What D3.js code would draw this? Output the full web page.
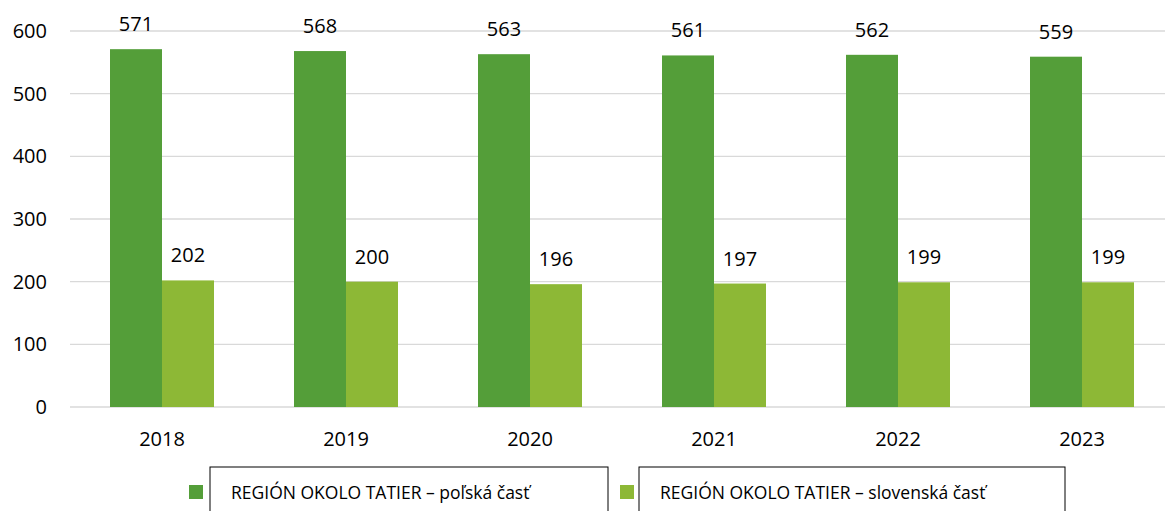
<!DOCTYPE html>
<html>
<head>
<meta charset="utf-8">
<script src="https://cdn.jsdelivr.net/npm/d3@7"></script>
<style>
  body { margin: 0; background: #fff; }
  text { font-family: "Open Sans", "Noto Sans", sans-serif; fill: #000; }
</style>
</head>
<body>
<div id="chart"></div>
<script>
const years = ["2018", "2019", "2020", "2021", "2022", "2023"];
const seriesNames = ["REGIÓN OKOLO TATIER – poľská časť", "REGIÓN OKOLO TATIER – slovenská časť"];
const polishValues = [571, 568, 563, 561, 562, 559];
const slovakValues = [202, 200, 196, 197, 199, 199];
const yTicks = [0, 100, 200, 300, 400, 500, 600];
const colors = ["#549e39", "#8db836"];

const w = 1165;
const h = 511;
const plotLeft = 70, plotRight = 1174, plotTop = 31, plotBottom = 407;

const svg = d3.select("#chart")
    .append("svg")
    .attr("width", w)
    .attr("height", h);

const xScale = d3.scaleBand()
    .domain(years)
    .range([plotLeft, plotRight]);

const inner = d3.scaleBand()
    .domain([0, 1])
    .range([0, xScale.bandwidth()])
    .paddingOuter(40 / 52)
    .paddingInner(0);

const yScale = d3.scaleLinear()
    .domain([0, 600])
    .range([plotBottom, plotTop]);

// gridlines
svg.append("g")
    .selectAll("line")
    .data(yTicks)
    .enter()
    .append("line")
    .attr("x1", plotLeft)
    .attr("x2", w)
    .attr("y1", d => yScale(d))
    .attr("y2", d => yScale(d))
    .attr("stroke", "#d9d9d9")
    .attr("stroke-width", 1.3);

// y labels
svg.append("g")
    .selectAll("text")
    .data(yTicks)
    .enter()
    .append("text")
    .attr("x", 47)
    .attr("y", d => yScale(d) + 7)
    .attr("text-anchor", "end")
    .attr("font-size", 20)
    .text(d => d);

const rows = years.map((y, i) => ({ year: y, vals: [polishValues[i], slovakValues[i]] }));

const groups = svg.selectAll("g.year")
    .data(rows)
    .enter()
    .append("g")
    .attr("class", "year")
    .attr("transform", d => "translate(" + xScale(d.year) + ",0)");

groups.selectAll("rect")
    .data(d => d.vals)
    .enter()
    .append("rect")
    .attr("x", (d, i) => inner(i))
    .attr("y", d => yScale(d))
    .attr("width", inner.bandwidth())
    .attr("height", d => yScale(0) - yScale(d))
    .attr("fill", (d, i) => colors[i]);

groups.selectAll("text")
    .data(d => d.vals)
    .enter()
    .append("text")
    .attr("x", (d, i) => inner(i) + inner.bandwidth() / 2)
    .attr("y", d => yScale(d) - 18)
    .attr("text-anchor", "middle")
    .attr("font-size", 20)
    .text(d => d);

// x labels
svg.append("g")
    .selectAll("text")
    .data(years)
    .enter()
    .append("text")
    .attr("x", d => xScale(d) + xScale.bandwidth() / 2)
    .attr("y", 446)
    .attr("text-anchor", "middle")
    .attr("font-size", 20)
    .text(d => d);

// legend
const legend = [
    { sx: 189, tx: 231, bx: 210, bw: 398 },
    { sx: 620, tx: 660, bx: 639, bw: 426 }
];
legend.forEach((l, i) => {
    svg.append("rect")
        .attr("x", l.bx).attr("y", 467)
        .attr("width", l.bw).attr("height", 60)
        .attr("fill", "none")
        .attr("stroke", "#000")
        .attr("stroke-width", 1);
    svg.append("rect")
        .attr("x", l.sx).attr("y", 485)
        .attr("width", 14).attr("height", 14)
        .attr("fill", colors[i]);
    svg.append("text")
        .attr("x", l.tx).attr("y", 499)
        .attr("font-size", 17.5)
        .text(seriesNames[i]);
});
</script>
</body>
</html>
